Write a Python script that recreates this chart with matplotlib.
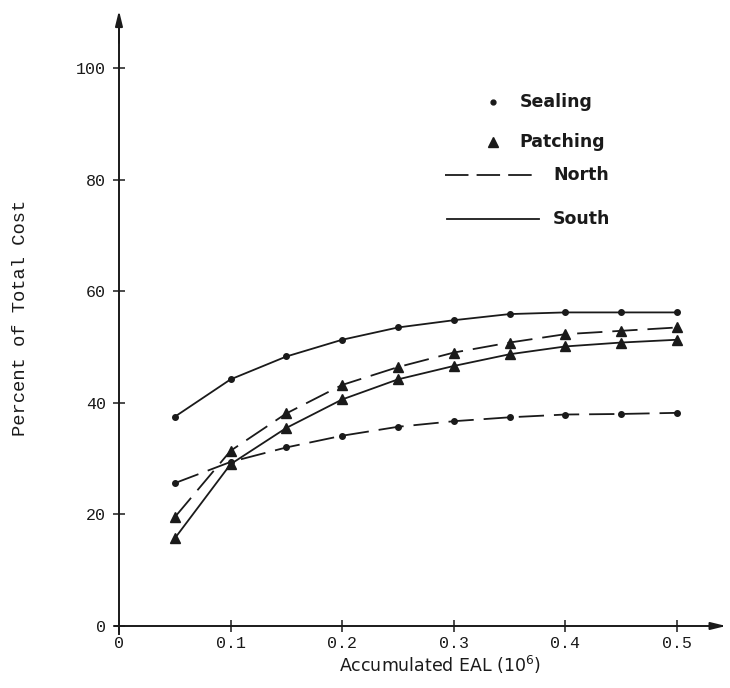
import matplotlib

matplotlib.use("Agg")
import matplotlib.pyplot as plt

# accumulated EAL (10^6)
eal = [0.05, 0.10, 0.15, 0.20, 0.25, 0.30, 0.35, 0.40, 0.45, 0.50]

# percent of total cost
south_sealing = [37.5, 44.2, 48.3, 51.3, 53.5, 54.8, 55.9, 56.2, 56.2, 56.2]
north_sealing = [25.6, 29.4, 32.0, 34.1, 35.7, 36.7, 37.4, 37.9, 38.0, 38.2]
north_patching = [19.5, 31.4, 38.1, 43.2, 46.4, 49.0, 50.8, 52.3, 52.9, 53.5]
south_patching = [15.7, 29.0, 35.5, 40.6, 44.2, 46.6, 48.7, 50.1, 50.8, 51.3]

x_ticks = [0, 0.1, 0.2, 0.3, 0.4, 0.5]
x_tick_labels = ["0", "0.1", "0.2", "0.3", "0.4", "0.5"]
y_ticks = [0, 20, 40, 60, 80, 100]

ink = "#1a1a1a"
dash = (0, (14, 5.5))

fig = plt.figure(figsize=(7.3, 6.88), dpi=100)
ax = fig.add_axes([0.1477, 0.0658, 0.853, 0.9286])
ax.set_xlim(-0.01, 0.548)
ax.set_ylim(-3, 111.5)

# axes drawn through the origin, with arrow heads
for side in ("top", "right"):
    ax.spines[side].set_visible(False)
ax.spines["left"].set_position(("data", 0))
ax.spines["bottom"].set_position(("data", 0))
ax.spines["left"].set_bounds(-1.5, 108)
ax.spines["bottom"].set_bounds(-0.004, 0.54)
for side in ("left", "bottom"):
    ax.spines[side].set_color(ink)
    ax.spines[side].set_linewidth(1.4)
ax.annotate("", xy=(0, 110.8), xytext=(0, 104),
            arrowprops=dict(arrowstyle="-|>,head_length=0.9,head_width=0.22", color=ink, lw=1.4))
ax.annotate("", xy=(0.5465, 0), xytext=(0.53, 0),
            arrowprops=dict(arrowstyle="-|>,head_length=0.9,head_width=0.22", color=ink, lw=1.4))

ax.set_xticks(x_ticks)
ax.set_xticklabels(x_tick_labels)
ax.set_yticks(y_ticks)
ax.tick_params(direction="inout", length=9, width=1.1, color=ink, labelcolor=ink,
               labelsize=12)
ax.tick_params(axis="x", pad=3)
ax.tick_params(axis="y", pad=5)
for lab in ax.get_xticklabels() + ax.get_yticklabels():
    lab.set_fontfamily(["Liberation Mono", "DejaVu Sans Mono"])

ax.set_xlabel("Accumulated EAL (10$^6$)", fontsize=12.5, color=ink,
              family=["Liberation Sans Narrow", "DejaVu Sans"])
ax.xaxis.set_label_coords(0.533, -0.035)
ax.xaxis.label.set_va("center")
ax.set_ylabel("Percent of Total Cost", fontsize=13.5, color=ink,
              family=["Liberation Mono", "DejaVu Sans Mono"])
ax.yaxis.set_label_coords(-0.141, 0.508)
ax.yaxis.label.set_va("center")

# curves
ax.plot(eal, south_sealing, color=ink, lw=1.3, marker="o", ms=4)
ax.plot(eal, north_sealing, color=ink, lw=1.3, ls=dash, marker="o", ms=4)
ax.plot(eal, north_patching, color=ink, lw=1.3, ls=dash, marker="^", ms=6.5)
ax.plot(eal, south_patching, color=ink, lw=1.3, marker="^", ms=6.5)

# hand-placed key
key_font = dict(fontsize=12.5, fontweight="bold", color=ink, va="center",
                family=["DejaVu Sans"])
ax.plot([0.335], [93.9], "o", color=ink, ms=3.5)
ax.text(0.359, 93.9, "Sealing", **key_font)
ax.plot([0.335], [86.7], "^", color=ink, ms=6.5)
ax.text(0.359, 86.7, "Patching", **key_font)
ax.plot([0.292, 0.3746], [80.8, 80.8], color=ink, lw=1.3, ls=(0, (13, 4.5)))
ax.text(0.389, 80.8, "North", **key_font)
ax.plot([0.294, 0.376], [72.9, 72.9], color=ink, lw=1.3)
ax.text(0.389, 72.9, "South", **key_font)

fig.savefig("out.png", dpi=100)
